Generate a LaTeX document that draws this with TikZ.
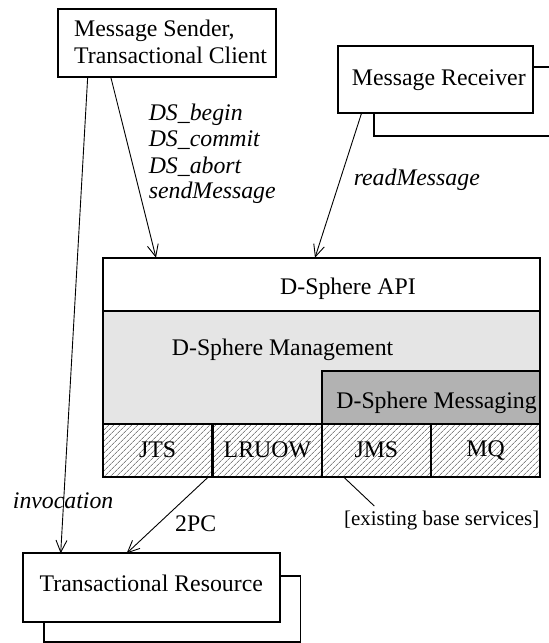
\documentclass[tikz,border=0pt]{standalone}
\usepackage{fontspec}
\setmainfont{Liberation Serif}
\usetikzlibrary{arrows.meta,patterns.meta}

\tikzset{
  box/.style={draw, line width=1.8pt, fill=white, rectangle, inner sep=0pt, outer sep=0pt, anchor=north west},
  hatchbox/.style={draw, line width=1.8pt, rectangle, inner sep=0pt, outer sep=0pt, anchor=north west,
    minimum width=109.3pt, minimum height=53pt,
    pattern={Lines[angle=45,distance=4pt,line width=0.5pt]}, pattern color=black!75,
    font=\fontsize{23.8}{26.7}\selectfont},
  lbl/.style={anchor=base west, inner sep=0pt, font=\fontsize{23.8}{26.7}\selectfont},
  ilbl/.style={lbl, font=\fontsize{23.8}{26.7}\selectfont\itshape},
  smalllbl/.style={lbl, font=\fontsize{20.9}{24}\selectfont},
  conn/.style={line width=0.9pt},
  arr/.style={conn, -{Straight Barb[length=12pt,width=11pt]}},
}

\begin{document}
\begin{tikzpicture}[x=1pt,y=-1pt]
\useasboundingbox (0,0) rectangle (549,643);
\clip (0,0) rectangle (549,643);

% stacked sheets behind the receiver and the resource
\node[box, minimum width=190pt, minimum height=68.7pt] (rcvback) at (374.3,67.3) {};
\node[box, minimum width=195.6pt, minimum height=67pt] (rcv) at (337.7,45.7) {};
\node[box, minimum width=256.7pt, minimum height=66.6pt] (trback) at (43.7,575.7) {};
\node[box, minimum width=257.3pt, minimum height=68.4pt] (tr) at (22.7,553.3) {};

% client
\node[box, minimum width=218.6pt, minimum height=67.7pt] (sender) at (57.7,9) {};

% D-Sphere layers
\node[box, minimum width=437.3pt, minimum height=53pt] (api) at (103,257.7) {};
\node[box, fill=black!10, minimum width=437.3pt, minimum height=113pt] (mgmt) at (103,310.7) {};
\node[box, fill=black!30, minimum width=218.6pt, minimum height=53pt] (msg) at (321.7,370.7) {};

% base services
\node[hatchbox] (jts) at (103,423.7) {JTS};
\node[hatchbox] (lruow) at (212.7,423.7) {LRUOW};
\node[hatchbox] (jms) at (321.7,423.7) {JMS};
\node[hatchbox] (mq) at (431,423.7) {MQ};

% texts
\node[lbl] (t-send1) at (74,36.7) {Message Sender,};
\node[lbl] (t-send2) at (74,63.3) {Transactional Client};
\node[lbl] (t-rcv) at (351.7,85) {Message Receiver};
\node[lbl] (t-tr) at (39.5,591.7) {Transactional Resource};
\node[lbl] (t-api) at (280,294.3) {D-Sphere API};
\node[lbl] (t-mgmt) at (171.7,355.7) {D-Sphere Management};
\node[lbl] (t-msg) at (336.2,408.3) {D-Sphere Messaging};

\node[ilbl] (op1) at (148.6,120.7) {DS\_begin};
\node[ilbl] (op2) at (148.6,146.7) {DS\_commit};
\node[ilbl] (op3) at (148.6,173.3) {DS\_abort};
\node[ilbl] (op4) at (148.6,198.3) {sendMessage};
\node[ilbl] (op-read) at (353.6,185) {readMessage};
\node[ilbl] (op-inv) at (12.7,508.3) {invocation};
\node[lbl] (op-2pc) at (175,531.7) {2PC};
\node[smalllbl] (note) at (344,525) {[existing base services]};

% connectors
\draw[arr] ([xshift=30pt]sender.south west) -- ([xshift=38pt]tr.north west);
\draw[arr] ([xshift=53pt]sender.south west) -- ([xshift=53pt]api.north west);
\draw[arr] ([xshift=24pt]rcv.south west) -- ([xshift=212pt]api.north west);
\draw[arr] ([xshift=-3.7pt]jts.south east) -- ([xshift=104pt]tr.north west);
\coordinate (notept) at (374.3,506);
\draw[conn] ([xshift=21.6pt]jms.south west) -- (notept);
\end{tikzpicture}
\end{document}
